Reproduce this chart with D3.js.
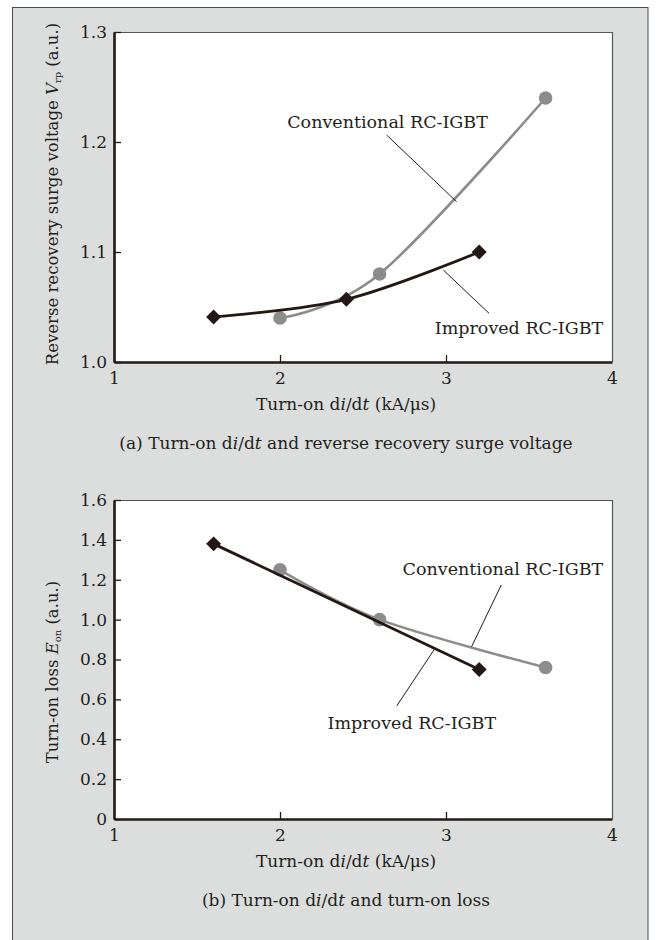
<!DOCTYPE html>
<html>
<head>
<meta charset="utf-8">
<script src="https://cdn.jsdelivr.net/npm/d3@7"></script>
<style>
  body { margin: 0; background: #fff; }
  svg text { font-family: "DejaVu Serif", "Liberation Serif", serif; fill: #231f20; }
</style>
</head>
<body>
<div id="vis"></div>
<script>
// x values (turn-on di/dt, kA/us)
const xTicks = [1, 2, 3, 4]
const convX = [2.0, 2.6, 3.6]
const impX = [1.6, 2.4, 3.2]
const impLossX = [1.6, 3.2]

// (a) reverse recovery surge voltage
const convSurge = [1.04, 1.08, 1.24]
const impSurge = [1.041, 1.057, 1.10]
const surgeTicks = [1.0, 1.1, 1.2, 1.3]

// (b) turn-on loss
const convLoss = [1.25, 1.00, 0.76]
const impLoss = [1.38, 0.75]
const lossTicks = [0, 0.2, 0.4, 0.6, 0.8, 1.0, 1.2, 1.4, 1.6]

const W = 658
const H = 940
const INK = '#231815'
const GREY = '#8c8c8c'
const PLOT = { left: 114, right: 612 }
const TEXT_CX = 346
const FS = 17

const svg = d3.select('#vis').append('svg')
	.attr('width', W)
	.attr('height', H)

// grey panel behind both charts
svg.append('rect')
	.attr('x', 12.5)
	.attr('y', 7.5)
	.attr('width', 635.5)
	.attr('height', H)
	.attr('fill', '#dcdedd')
	.attr('stroke', '#4a4a4a')
	.attr('stroke-width', 1)

function drawChart(opt) {
	const x = d3.scaleLinear().domain([1, 4]).range([PLOT.left, PLOT.right])
	const y = d3.scaleLinear().domain(opt.yDomain).range([opt.bottom, opt.top])

	const g = svg.append('g')

	g.append('rect')
		.attr('x', PLOT.left)
		.attr('y', opt.top)
		.attr('width', PLOT.right - PLOT.left)
		.attr('height', opt.bottom - opt.top)
		.attr('fill', '#fff')

	// thin frame on top / right
	g.append('path')
		.attr('d', `M${PLOT.left},${opt.top + 0.5}H${PLOT.right + 0.5}V${opt.bottom}`)
		.attr('fill', 'none')
		.attr('stroke', '#555')
		.attr('stroke-width', 1.2)

	const fmt = d => d === 0 ? '0' : d3.format('.1f')(d)

	const yAxis = g.append('g')
		.attr('transform', `translate(${PLOT.left},0)`)
		.call(d3.axisLeft(y).tickValues(opt.yTicks).tickFormat(fmt).tickSizeInner(-7).tickSizeOuter(0).tickPadding(7))
	const xAxis = g.append('g')
		.attr('transform', `translate(0,${opt.bottom})`)
		.call(d3.axisBottom(x).tickValues(xTicks).tickFormat(d3.format('d')).tickSizeInner(-7).tickSizeOuter(0).tickPadding(10))

	;[yAxis, xAxis].forEach(a => {
		a.select('.domain').attr('stroke', INK).attr('stroke-width', 2.6)
		a.selectAll('.tick line').attr('stroke', INK).attr('stroke-width', 1.3)
		a.selectAll('.tick text').attr('font-size', FS).attr('font-family', null).attr('fill', null)
	})
	xAxis.selectAll('.tick line').filter(d => d === 1 || d === 4).remove()

	// x axis title
	const xt = g.append('text')
		.attr('x', TEXT_CX)
		.attr('y', opt.bottom + 48)
		.attr('text-anchor', 'middle')
		.attr('font-size', FS)
	xt.append('tspan').text('Turn-on d')
	xt.append('tspan').attr('font-style', 'italic').text('i')
	xt.append('tspan').text('/d')
	xt.append('tspan').attr('font-style', 'italic').text('t')
	xt.append('tspan').text(' (kA/\u03bcs)')

	// caption
	const cap = g.append('text')
		.attr('x', TEXT_CX)
		.attr('y', opt.bottom + 87)
		.attr('text-anchor', 'middle')
		.attr('font-size', FS)
	opt.caption.forEach(p => cap.append('tspan').attr('font-style', p.it ? 'italic' : null).text(p.t))

	// y axis title
	const yt = g.append('text')
		.attr('transform', `translate(58,${opt.yTitleY}) rotate(-90)`)
		.attr('text-anchor', 'middle')
		.attr('font-size', 16.5)
	opt.yTitle.forEach(p => {
		const s = yt.append('tspan').text(p.t)
		if (p.it) s.attr('font-style', 'italic')
		if (p.sub) s.attr('font-size', 10).attr('dy', 3)
		if (p.after) s.attr('dy', -3)
	})

	const line = d3.line()
		.x(d => x(d[0]))
		.y(d => y(d[1]))
		.curve(d3.curveCatmullRom.alpha(0))

	const conv = d3.zip(opt.convX, opt.conv)
	const imp = d3.zip(opt.impX, opt.imp)

	g.append('path')
		.attr('d', line(conv))
		.attr('fill', 'none')
		.attr('stroke', GREY)
		.attr('stroke-width', 2.6)

	g.selectAll('.conv-dot').data(conv).enter()
		.append('circle')
		.attr('class', 'conv-dot')
		.attr('cx', d => x(d[0]))
		.attr('cy', d => y(d[1]))
		.attr('r', 6.8)
		.attr('fill', GREY)

	g.append('path')
		.attr('d', line(imp))
		.attr('fill', 'none')
		.attr('stroke', INK)
		.attr('stroke-width', 2.8)

	g.selectAll('.imp-dot').data(imp).enter()
		.append('path')
		.attr('class', 'imp-dot')
		.attr('transform', d => `translate(${x(d[0])},${y(d[1])}) rotate(45)`)
		.attr('d', d3.symbol(d3.symbolSquare, 112))
		.attr('fill', INK)

	// callouts
	opt.labels.forEach(l => {
		g.append('text')
			.attr('x', x(l.x))
			.attr('y', y(l.y))
			.attr('text-anchor', 'middle')
			.attr('font-size', 17.5)
			.text(l.text)
		g.append('line')
			.attr('x1', x(l.lead[0]))
			.attr('y1', y(l.lead[1]))
			.attr('x2', x(l.lead[2]))
			.attr('y2', y(l.lead[3]))
			.attr('stroke', INK)
			.attr('stroke-width', 1)
	})
}

drawChart({
	top: 32,
	bottom: 362,
	yDomain: [1.0, 1.3],
	yTicks: surgeTicks,
	convX: convX,
	conv: convSurge,
	impX: impX,
	imp: impSurge,
	yTitleY: 194,
	yTitle: [
		{ t: 'Reverse recovery surge voltage ' },
		{ t: 'V', it: true },
		{ t: 'rp', sub: true },
		{ t: ' (a.u.)', after: true }
	],
	caption: [
		{ t: '(a) Turn-on d' }, { t: 'i', it: true }, { t: '/d' }, { t: 't', it: true },
		{ t: ' and reverse recovery surge voltage' }
	],
	labels: [
		{ text: 'Conventional RC-IGBT', x: 2.648, y: 1.2127, lead: [2.642, 1.2064, 3.064, 1.1457] },
		{ text: 'Improved RC-IGBT', x: 3.44, y: 1.0255, lead: [2.984, 1.0836, 3.259, 1.0443] }
	]
})

drawChart({
	top: 500,
	bottom: 819,
	yDomain: [0, 1.6],
	yTicks: lossTicks,
	convX: convX,
	conv: convLoss,
	impX: impLossX,
	imp: impLoss,
	yTitleY: 672,
	yTitle: [
		{ t: 'Turn-on loss ' },
		{ t: 'E', it: true },
		{ t: 'on', sub: true },
		{ t: ' (a.u.)', after: true }
	],
	caption: [
		{ t: '(b) Turn-on d' }, { t: 'i', it: true }, { t: '/d' }, { t: 't', it: true },
		{ t: ' and turn-on loss' }
	],
	labels: [
		{ text: 'Conventional RC-IGBT', x: 3.343, y: 1.224, lead: [3.333, 1.1737, 3.154, 0.864] },
		{ text: 'Improved RC-IGBT', x: 2.794, y: 0.451, lead: [2.703, 0.567, 2.934, 0.856] }
	]
})
</script>
</body>
</html>
